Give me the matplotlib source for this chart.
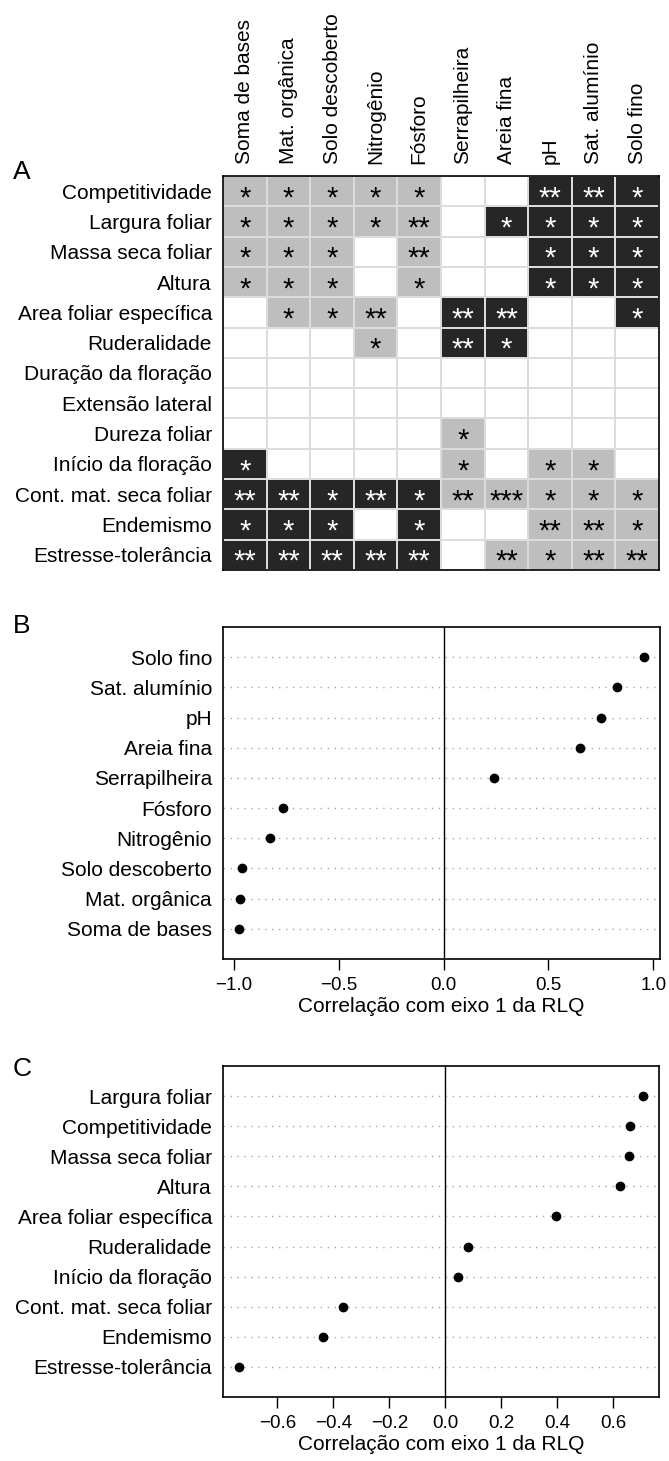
import matplotlib
matplotlib.use('Agg')
import matplotlib.pyplot as plt
from matplotlib.colors import ListedColormap
import numpy as np

plt.rcParams['font.family'] = ['Liberation Sans', 'DejaVu Sans']
LABEL_SIZE = 15
TICK_SIZE = 13.5

# ---- panel A: fourth-corner associations (sign = direction, value = number of stars)
env_vars = ['Soma de bases', 'Mat. orgânica', 'Solo descoberto', 'Nitrogênio', 'Fósforo',
            'Serrapilheira', 'Areia fina', 'pH', 'Sat. alumínio', 'Solo fino']
traits = ['Competitividade', 'Largura foliar', 'Massa seca foliar', 'Altura',
          'Area foliar específica', 'Ruderalidade', 'Duração da floração',
          'Extensão lateral', 'Dureza foliar', 'Início da floração',
          'Cont. mat. seca foliar', 'Endemismo', 'Estresse-tolerância']
assoc = [
    [-1, -1, -1, -1, -1, 0, 0, 2, 2, 1],
    [-1, -1, -1, -1, -2, 0, 1, 1, 1, 1],
    [-1, -1, -1, 0, -2, 0, 0, 1, 1, 1],
    [-1, -1, -1, 0, -1, 0, 0, 1, 1, 1],
    [0, -1, -1, -2, 0, 2, 2, 0, 0, 1],
    [0, 0, 0, -1, 0, 2, 1, 0, 0, 0],
    [0, 0, 0, 0, 0, 0, 0, 0, 0, 0],
    [0, 0, 0, 0, 0, 0, 0, 0, 0, 0],
    [0, 0, 0, 0, 0, -1, 0, 0, 0, 0],
    [1, 0, 0, 0, 0, -1, 0, -1, -1, 0],
    [2, 2, 1, 2, 1, -2, -3, -1, -1, -1],
    [1, 1, 1, 0, 1, 0, 0, -2, -2, -1],
    [2, 2, 2, 2, 2, 0, -2, -1, -2, -2],
]

# ---- panel B: environmental variables (top to bottom)
env_names = ['Solo fino', 'Sat. alumínio', 'pH', 'Areia fina', 'Serrapilheira',
             'Fósforo', 'Nitrogênio', 'Solo descoberto', 'Mat. orgânica', 'Soma de bases']
env_corr = [0.955, 0.827, 0.752, 0.650, 0.240, -0.768, -0.827, -0.961, -0.971, -0.976]

# ---- panel C: traits (top to bottom)
trait_names = ['Largura foliar', 'Competitividade', 'Massa seca foliar', 'Altura',
               'Area foliar específica', 'Ruderalidade', 'Início da floração',
               'Cont. mat. seca foliar', 'Endemismo', 'Estresse-tolerância']
trait_corr = [0.707, 0.662, 0.656, 0.627, 0.397, 0.081, 0.047, -0.365, -0.437, -0.737]

W, H = 669, 1461
fig = plt.figure(figsize=(W / 100, H / 100), dpi=100)


def rect(l, t, r, b):
    return [l / W, 1 - b / H, (r - l) / W, (b - t) / H]


# ================= A =================
axA = fig.add_axes(rect(223, 176, 659, 570))
a = np.array(assoc)
cat = np.where(a < 0, 1, np.where(a > 0, 2, 0))
cmap = ListedColormap(['white', '#bebebe', '#262626'])
axA.pcolormesh(np.arange(a.shape[1] + 1), np.arange(a.shape[0] + 1), cat,
               cmap=cmap, vmin=-0.5, vmax=2.5, edgecolors='#dcdcdc', linewidth=1.2)
axA.set_xlim(0, a.shape[1])
axA.set_ylim(a.shape[0], 0)
for i in range(a.shape[0]):
    for j in range(a.shape[1]):
        v = a[i, j]
        if v != 0:
            axA.text(j + 0.5, i + 0.5 + 0.5, '*' * abs(v), ha='center', va='baseline',
                     fontsize=21, color='black' if v < 0 else 'white')
axA.xaxis.tick_top()
axA.set_xticks(np.arange(len(env_vars)) + 0.5)
axA.set_xticklabels(env_vars, rotation=90, fontsize=LABEL_SIZE)
axA.set_yticks(np.arange(len(traits)) + 0.5)
axA.set_yticklabels(traits, fontsize=LABEL_SIZE)
axA.tick_params(axis='x', length=0, pad=9)
axA.tick_params(axis='y', length=0, pad=8)
for s in axA.spines.values():
    s.set_linewidth(1.2)


# ================= B & C: dot charts =================
def dotchart(ax, names, vals, ticks):
    n = len(names)
    y = np.arange(n, 0, -1)
    lo, hi = min(vals), max(vals)
    ext = 0.04 * (hi - lo)
    x0, x1 = lo - ext, hi + ext
    ax.hlines(y, x0, x1, colors='#a8a8a8', linestyles=(0, (1, 4)), lw=1)
    ax.axvline(0, color='black', lw=1)
    ax.plot(vals, y, 'o', color='black', ms=6)
    ax.set_xlim(x0, x1)
    ax.set_ylim(0, n + 1)
    ax.set_yticks(y)
    ax.set_yticklabels(names, fontsize=LABEL_SIZE)
    ax.tick_params(axis='y', length=0, pad=8)
    ax.set_xticks(ticks)
    ax.set_xticklabels([('%.1f' % t).replace('-', '\u2212') for t in ticks], fontsize=TICK_SIZE)
    ax.tick_params(axis='x', length=8, width=1, pad=5)
    ax.set_xlabel('Correlação com eixo 1 da RLQ', fontsize=LABEL_SIZE, labelpad=2)
    for s in ax.spines.values():
        s.set_linewidth(1.2)


axB = fig.add_axes(rect(223, 627, 660, 959))
dotchart(axB, env_names, env_corr, [-1.0, -0.5, 0.0, 0.5, 1.0])

axC = fig.add_axes(rect(223, 1066, 659, 1397))
dotchart(axC, trait_names, trait_corr, [-0.6, -0.4, -0.2, 0.0, 0.2, 0.4, 0.6])

for letter, top in [('A', 160), ('B', 614), ('C', 1057)]:
    fig.text(13 / W, 1 - top / H, letter, fontsize=19, va='top', ha='left')

fig.savefig('out.png', dpi=100)
